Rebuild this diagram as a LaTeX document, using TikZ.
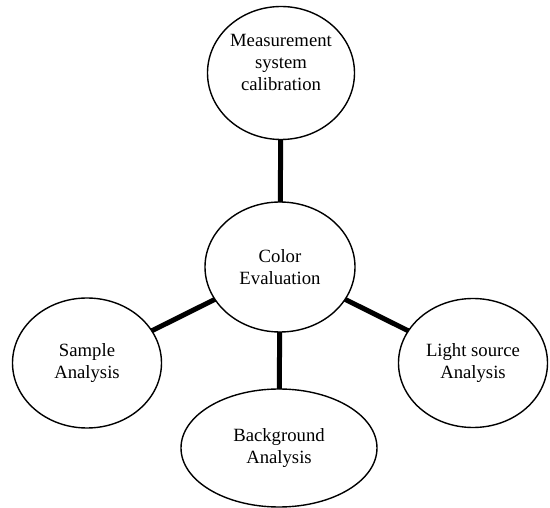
\documentclass[tikz,border=0pt]{standalone}
\usepackage{fontspec}
\setmainfont{Liberation Serif}
\usetikzlibrary{shapes.geometric}

\begin{document}
\begin{tikzpicture}[
    x=1pt, y=-1pt,
    bubble/.style={
        draw=black, ellipse, line width=1.4pt, fill=white,
        inner sep=0pt, outer sep=0pt, align=center,
        font=\fontsize{18.7}{22}\selectfont
    },
    spoke/.style={line width=5pt},
]
\useasboundingbox (0,0) rectangle (550,508);

%% Centre
\node[bubble, minimum width=150pt, minimum height=130pt] (colev) at (280, 267)
    {Color\\Evaluation};

%% Outer bubbles
\node[bubble, minimum width=147pt, minimum height=133pt] (calib) at (281, 73)
    {Measurement\\system\\calibration\\\mbox{}};
\node[bubble, minimum width=149pt, minimum height=130pt] (sample) at (87, 363)
    {Sample\\Analysis};
\node[bubble, minimum width=149pt, minimum height=129pt] (light) at (473, 363)
    {Light source\\Analysis};
\node[bubble, minimum width=196pt, minimum height=118pt] (backgr) at (279, 448)
    {Background\\Analysis};

%% Spokes
\draw[spoke] (calib) -- (colev);
\draw[spoke] (colev) -- (sample);
\draw[spoke] (colev) -- (light);
\draw[spoke] (colev) -- (backgr);

\end{tikzpicture}
\end{document}
